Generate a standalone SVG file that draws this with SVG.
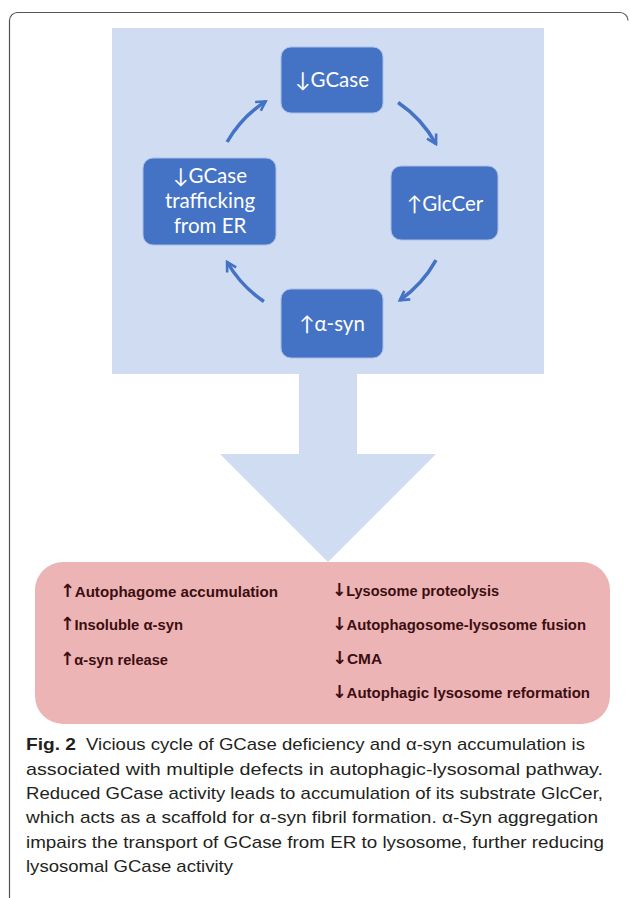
<svg xmlns="http://www.w3.org/2000/svg" width="630" height="898" viewBox="0 0 630 898">
<style>
.node rect{fill:#4472C4;stroke:#A9BFE6;stroke-width:1}
.node text{fill:#ffffff;font-family:Lato,"Liberation Sans",sans-serif;font-size:20.5px;text-anchor:middle}
.conn path{fill:none;stroke:#4472C4;stroke-width:3.5;marker-end:url(#ah)}
.eff{fill:#3B0E10;font-family:"Liberation Sans",Arial,sans-serif;font-weight:bold;font-size:15.5px}
.ar{font-family:"DejaVu Sans",sans-serif;font-weight:bold;font-size:18px}
.cap{fill:#231F20;font-family:"Liberation Sans",Arial,sans-serif;font-size:17px}
</style>
<defs>
<marker id="ah" viewBox="0 0 10 10" refX="8" refY="5" markerWidth="13" markerHeight="13" markerUnits="userSpaceOnUse" orient="auto">
<path d="M1,1 L8,5 L1,9" fill="none" stroke="#4472C4" stroke-width="2"/>
</marker>
</defs>
<path d="M9.5,905 V20.5 A8,8 0 0 1 17.5,12.5 H620 A8,8 0 0 1 628,20.5" fill="none" stroke="#555555" stroke-width="1.2"/>
<g id="cycle-bg">
<rect x="112" y="28" width="432" height="346" fill="#CFDCF1"/>
<polygon points="299,374 357,374 357,454 436,454 328,562 220,454 299,454" fill="#CFDCF1"/>
</g>
<g class="conn" id="connectors">
<path d="M227.1,142 A120,120 0 0 1 265.6,101.4"/>
<path d="M398.1,102.5 A120,120 0 0 1 436,144"/>
<path d="M436,260.2 A120,120 0 0 1 399.8,300.3"/>
<path d="M263.9,301.5 A120,120 0 0 1 227.1,262"/>
</g>
<g class="node" id="n-gcase"><rect x="281" y="47" width="102" height="66" rx="10"/><text x="332" y="87">↓GCase</text></g>
<g class="node" id="n-glccer"><rect x="391" y="166" width="107" height="74" rx="10"/><text x="445" y="211">↑GlcCer</text></g>
<g class="node" id="n-asyn"><rect x="281" y="289" width="102" height="69" rx="10"/><text x="332" y="331">↑α-syn</text></g>
<g class="node" id="n-traffic"><rect x="143" y="158" width="133" height="87" rx="10"/><text x="210" y="183">↓GCase</text><text x="210" y="208">trafficking</text><text x="210" y="233">from ER</text></g>
<g id="effects">
<rect x="35" y="562" width="575" height="162" rx="28" fill="#EDB4B6"/>
<text class="eff" x="60" y="597" textLength="218" lengthAdjust="spacingAndGlyphs"><tspan class="ar">↑</tspan>Autophagome accumulation</text>
<text class="eff" x="60" y="630" textLength="123" lengthAdjust="spacingAndGlyphs"><tspan class="ar">↑</tspan>Insoluble α-syn</text>
<text class="eff" x="60" y="665" textLength="108" lengthAdjust="spacingAndGlyphs"><tspan class="ar">↑</tspan>α-syn release</text>
<text class="eff" x="332" y="596" textLength="167" lengthAdjust="spacingAndGlyphs"><tspan class="ar">↓</tspan>Lysosome proteolysis</text>
<text class="eff" x="332" y="630" textLength="254" lengthAdjust="spacingAndGlyphs"><tspan class="ar">↓</tspan>Autophagosome-lysosome fusion</text>
<text class="eff" x="332" y="664" textLength="50" lengthAdjust="spacingAndGlyphs"><tspan class="ar">↓</tspan>CMA</text>
<text class="eff" x="332" y="698" textLength="258" lengthAdjust="spacingAndGlyphs"><tspan class="ar">↓</tspan>Autophagic lysosome reformation</text>
</g>
<g id="caption" class="cap">
<text x="26" y="750" font-weight="bold" textLength="50" lengthAdjust="spacingAndGlyphs">Fig. 2</text>
<text x="86" y="750" textLength="499" lengthAdjust="spacingAndGlyphs">Vicious cycle of GCase deficiency and α-syn accumulation is</text>
<text x="26" y="775" textLength="577" lengthAdjust="spacingAndGlyphs">associated with multiple defects in autophagic-lysosomal pathway.</text>
<text x="26" y="799" textLength="577" lengthAdjust="spacingAndGlyphs">Reduced GCase activity leads to accumulation of its substrate GlcCer,</text>
<text x="26" y="823" textLength="572" lengthAdjust="spacingAndGlyphs">which acts as a scaffold for α-syn fibril formation. α-Syn aggregation</text>
<text x="26" y="848" textLength="578" lengthAdjust="spacingAndGlyphs">impairs the transport of GCase from ER to lysosome, further reducing</text>
<text x="26" y="872" textLength="207" lengthAdjust="spacingAndGlyphs">lysosomal GCase activity</text>
</g>
</svg>
